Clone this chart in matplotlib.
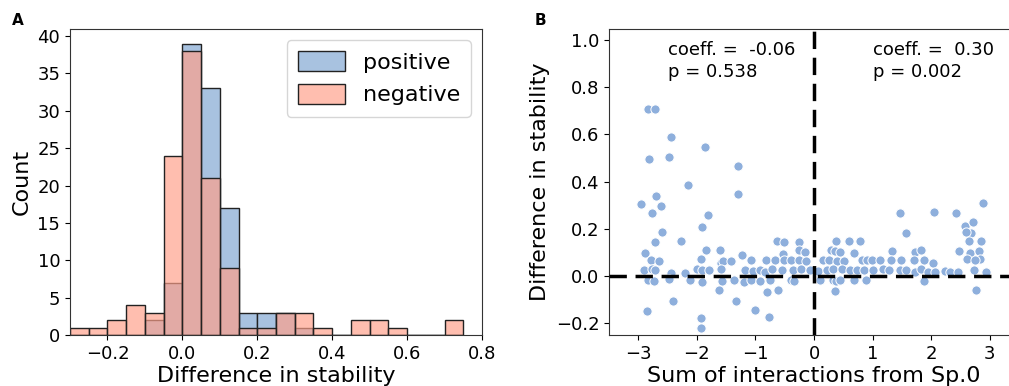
import numpy as np
import matplotlib
matplotlib.use("Agg")
import matplotlib.pyplot as plt
from matplotlib.colors import to_rgba

# ---- panel A: histogram counts (bin width 0.05 from -0.30) ----
bin_edges = np.round(np.arange(-0.30, 0.75 + 0.001, 0.05), 2)
pos_counts = [0, 0, 0, 0, 2, 7, 39, 33, 17, 3, 3, 3, 1, 0, 0, 0, 0, 0, 0, 0, 0]
neg_counts = [1, 1, 2, 4, 3, 24, 38, 21, 9, 1, 1, 3, 3, 1, 0, 2, 2, 1, 0, 0, 2]

# ---- panel B: scatter points (sum of interactions, difference in stability) ----
sx = [-2.83, -2.71, -2.81, -2.45, -2.48, -1.86, -2.16, -1.29, -1.29, -2.95,
      -2.70, -2.76, -2.62, -1.81, -1.92, -2.60, -2.72, -2.27, -2.89, -1.85,
      -1.61, -2.78, -2.65, -1.93, -1.23, -1.07, -0.82, -0.63, -0.52, -0.53,
      -0.66, -0.51, -0.26, -0.25, -0.16, -0.40, -0.26, -0.13, -1.59, -1.55,
      -1.42, -2.91, -2.76, -2.72, -2.44, -2.21, -2.00, -1.91, -1.80, -1.59,
      -1.18, -1.04, -0.92, -0.84, -0.71, -0.54, -0.36, -0.22, -0.07, -2.84,
      -2.74, -2.48, -2.12, -1.92, -1.57, -1.37, -1.19, -1.07, -0.93, -0.76,
      -0.40, -0.34, -1.63, -0.62, -0.81, -2.40, -1.33, -2.85, -1.01, -0.77,
      -1.93, -1.93,
      1.47, 2.05, 2.42, 2.89, 1.57, 2.57, 2.72, 2.68, 2.60, 2.65,
      2.85, 0.37, 0.59, 0.79, 0.29, 0.36, 0.45, 0.69, 1.33, 1.72,
      1.82, 2.48, 2.67, 2.81, 0.15, 0.26, 0.40, 0.52, 0.82, 0.90,
      0.99, 1.13, 1.32, 1.48, 1.71, 1.87, 2.03, 2.61, 2.84, 2.75,
      0.06, 0.23, 0.33, 0.47, 0.62, 0.73, 0.86, 1.01, 1.18, 1.28,
      1.46, 1.57, 1.72, 1.82, 1.95, 2.06, 2.23, 2.32, 2.46, 2.74,
      2.93, 0.11, 0.33, 0.37, 0.45, 0.68, 0.88, 1.87, 0.36, 2.76]
sy = [0.708, 0.708, 0.497, 0.588, 0.504, 0.545, 0.387, 0.467, 0.346, 0.306,
      0.339, 0.267, 0.295, 0.260, 0.209, 0.186, 0.143, 0.150, 0.099, 0.110,
      0.110, 0.069, 0.064, 0.071, 0.089, 0.069, 0.069, 0.150, 0.144, 0.092,
      0.066, 0.066, 0.144, 0.110, 0.103, 0.066, 0.069, 0.064, 0.056, 0.064,
      0.064, 0.024, 0.031, 0.025, 0.011, 0.014, 0.031, 0.025, 0.025, 0.031,
      0.024, 0.021, 0.025, 0.017, 0.028, 0.025, 0.025, 0.031, 0.025, -0.017,
      -0.023, -0.011, -0.017, -0.027, -0.023, -0.017, -0.027, -0.017, -0.023, -0.017,
      -0.017, -0.023, -0.061, -0.061, -0.068, -0.107, -0.107, -0.147, -0.144, -0.174,
      -0.177, -0.220,
      0.267, 0.271, 0.267, 0.311, 0.184, 0.213, 0.230, 0.184, 0.188, 0.147,
      0.147, 0.147, 0.147, 0.150, 0.110, 0.106, 0.103, 0.099, 0.106, 0.103,
      0.110, 0.106, 0.099, 0.106, 0.069, 0.066, 0.064, 0.064, 0.066, 0.066,
      0.066, 0.069, 0.066, 0.069, 0.069, 0.066, 0.056, 0.071, 0.071, 0.066,
      0.021, 0.025, 0.031, 0.031, 0.024, 0.025, 0.025, 0.025, 0.031, 0.025,
      0.024, 0.025, 0.017, 0.031, 0.017, 0.017, 0.021, 0.017, 0.017, 0.024,
      0.017, -0.017, -0.017, -0.023, -0.017, -0.017, -0.017, -0.023, -0.065, -0.061]

left_coef, left_p = "-0.06", "0.538"
right_coef, right_p = "0.30", "0.002"

fig = plt.figure(figsize=(10.09, 3.86), dpi=100)
axA = fig.add_axes([0.0694, 0.132, 0.4083, 0.793])
axB = fig.add_axes([0.6036, 0.132, 0.4063, 0.793])

# histogram A (salmon drawn translucent over the blue, edges kept opaque)
w = 0.05
axA.bar(bin_edges[:-1], pos_counts, width=w, align="edge", facecolor="#a8c2e0",
        edgecolor="#222222", linewidth=1.0, label="positive")
axA.bar(bin_edges[:-1], neg_counts, width=w, align="edge",
        facecolor=to_rgba("#ffa08a", 0.68), edgecolor="#222222", linewidth=1.0,
        label="negative")
axA.set_xlim(-0.3, 0.8)
axA.set_ylim(0, 40.95)
axA.set_yticks(range(0, 41, 5))
axA.set_xticks([-0.2, 0.0, 0.2, 0.4, 0.6, 0.8])
axA.set_xlabel("Difference in stability", fontsize=16, labelpad=2)
axA.set_ylabel("Count", fontsize=16, labelpad=4)
axA.tick_params(labelsize=13)
axA.legend(loc="upper right", fontsize=16, handlelength=2.1, handleheight=1.0,
           borderpad=0.5, labelspacing=0.5)

# scatter B
axB.scatter(sx, sy, s=44, color="#8eafdc", edgecolor="white", linewidth=0.7, zorder=3)
axB.axhline(0, color="black", ls=(0, (5, 2.5)), lw=2.5, zorder=4)
axB.axvline(0, color="black", ls=(0, (5, 2.5)), lw=2.5, zorder=4)
axB.set_xlim(-3.5, 3.5)
axB.set_ylim(-0.25, 1.047)
axB.set_xticks([-3, -2, -1, 0, 1, 2, 3])
axB.set_yticks([-0.2, 0.0, 0.2, 0.4, 0.6, 0.8, 1.0])
axB.set_xlabel("Sum of interactions from Sp.0", fontsize=16, labelpad=2)
axB.set_ylabel("Difference in stability", fontsize=16, labelpad=4)
axB.tick_params(labelsize=13)
axB.text(-2.5, 0.995, f"coeff. =  {left_coef}\np = {left_p}", fontsize=13, va="top",
         linespacing=1.25)
axB.text(1.01, 0.995, f"coeff. =  {right_coef}\np = {right_p}", fontsize=13, va="top",
         linespacing=1.25)

for ax in (axA, axB):
    for sp in ax.spines.values():
        sp.set_color("#333333")

fig.text(0.012, 0.935, "A", fontsize=11, fontweight="bold")
fig.text(0.530, 0.935, "B", fontsize=11, fontweight="bold")

fig.savefig("out.png", dpi=100)
